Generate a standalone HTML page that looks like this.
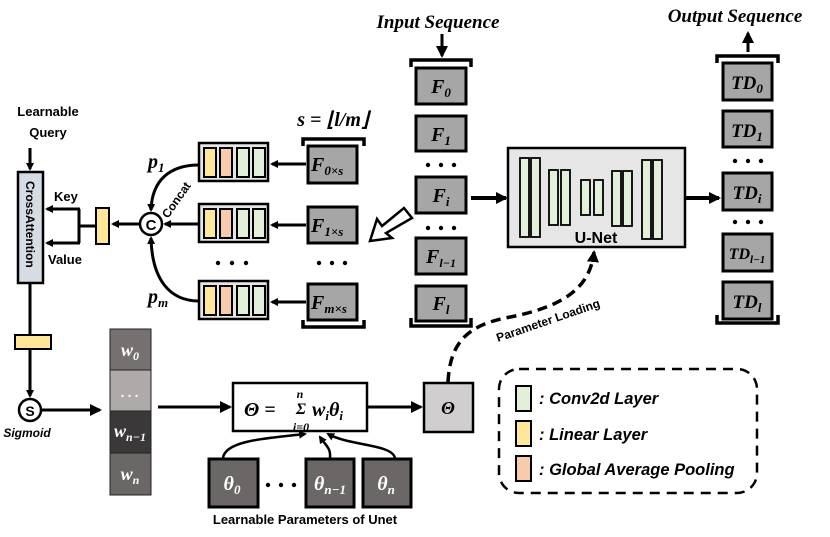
<!DOCTYPE html>
<html><head><meta charset="utf-8"><style>
html,body{margin:0;padding:0;background:#fff;}
svg{display:block}
.sf{font-family:"Liberation Serif",serif;font-weight:bold;font-style:italic;}
.ss{font-family:"Liberation Sans",sans-serif;font-weight:bold;}
</style></head><body>
<svg width="830" height="537" viewBox="0 0 830 537" xmlns="http://www.w3.org/2000/svg">
<defs>
<marker id="ah" markerWidth="8" markerHeight="8" refX="6" refY="4" orient="auto" markerUnits="userSpaceOnUse" viewBox="0 0 8 8">
<path d="M0,0 L8,4 L0,8 z" fill="#000"/></marker>
<marker id="ah2" markerWidth="12" markerHeight="12" refX="10" refY="6" orient="auto" markerUnits="userSpaceOnUse" viewBox="0 0 12 12">
<path d="M0,0 L12,6 L0,12 z" fill="#000"/></marker>
</defs>

<!-- Input sequence -->
<text x="438" y="28" class="sf" font-size="19" text-anchor="middle">Input Sequence</text>
<line x1="442" y1="34" x2="442" y2="56" stroke="#000" stroke-width="3" marker-end="url(#ah2)"/>
<path d="M411,67 V60 H471 V67" fill="none" stroke="#000" stroke-width="3.5"/>
<path d="M411,318 V326 H471 V318" fill="none" stroke="#000" stroke-width="3.5"/>
<g stroke="#000" stroke-width="3" fill="#a6a6a6">
<rect x="416" y="68" width="50" height="36"/>
<rect x="416" y="116" width="50" height="35"/>
<rect x="416" y="177" width="50" height="36"/>
<rect x="416" y="238" width="50" height="36"/>
<rect x="416" y="286" width="50" height="35"/>
</g>
<g class="sf" font-size="20" text-anchor="middle">
<text x="441" y="93">F<tspan font-size="13" dy="4">0</tspan></text>
<text x="441" y="141">F<tspan font-size="13" dy="4">1</tspan></text>
<text x="441" y="202">F<tspan font-size="13" dy="4">i</tspan></text>
<text x="441" y="263">F<tspan font-size="12" dy="4">l−1</tspan></text>
<text x="441" y="310">F<tspan font-size="13" dy="4">l</tspan></text>
</g>
<g fill="#000"><circle cx="428" cy="165" r="2.2"/><circle cx="441" cy="165" r="2.2"/><circle cx="454" cy="165" r="2.2"/>
<circle cx="428" cy="228" r="2.2"/><circle cx="441" cy="228" r="2.2"/><circle cx="454" cy="228" r="2.2"/></g>

<!-- U-Net -->
<line x1="471" y1="198" x2="506" y2="198" stroke="#000" stroke-width="4" marker-end="url(#ah2)"/>
<rect x="508" y="148" width="177" height="99" fill="#e6e6e6" stroke="#000" stroke-width="2.5"/>
<g fill="#e2efda" stroke="#000" stroke-width="1.8">
<rect x="520" y="158" width="9" height="79"/><rect x="531" y="158" width="9" height="79"/>
<rect x="549" y="170" width="9" height="55"/><rect x="561" y="170" width="9" height="55"/>
<rect x="581" y="180" width="9" height="35"/><rect x="594" y="180" width="9" height="35"/>
<rect x="612" y="171" width="9" height="55"/><rect x="623" y="171" width="9" height="55"/>
<rect x="642" y="160" width="9" height="79"/><rect x="653" y="160" width="9" height="79"/>
</g>
<text x="596" y="243" class="ss" font-size="16" text-anchor="middle">U-Net</text>
<line x1="686" y1="198" x2="719" y2="198" stroke="#000" stroke-width="4" marker-end="url(#ah2)"/>

<!-- Output -->
<text x="735" y="22" class="sf" font-size="19" text-anchor="middle">Output Sequence</text>
<line x1="748" y1="52" x2="748" y2="33" stroke="#000" stroke-width="3" marker-end="url(#ah2)"/>
<path d="M717,63 V56 H778 V63" fill="none" stroke="#000" stroke-width="3.5"/>
<path d="M717,315 V323 H778 V315" fill="none" stroke="#000" stroke-width="3.5"/>
<g stroke="#000" stroke-width="3" fill="#a6a6a6">
<rect x="723" y="63" width="49" height="37"/>
<rect x="723" y="111" width="49" height="36"/>
<rect x="723" y="173" width="49" height="37"/>
<rect x="723" y="234" width="49" height="37"/>
<rect x="723" y="282" width="49" height="37"/>
</g>
<g class="sf" font-size="19" text-anchor="middle">
<text x="747" y="89">TD<tspan font-size="13" dy="4">0</tspan></text>
<text x="747" y="137">TD<tspan font-size="13" dy="4">1</tspan></text>
<text x="747" y="199">TD<tspan font-size="13" dy="4">i</tspan></text>
<text x="747" y="259" font-size="16">TD<tspan font-size="11" dy="4">l−1</tspan></text>
<text x="747" y="308">TD<tspan font-size="13" dy="4">l</tspan></text>
</g>
<g fill="#000"><circle cx="735" cy="161" r="2.2"/><circle cx="748" cy="161" r="2.2"/><circle cx="761" cy="161" r="2.2"/>
<circle cx="735" cy="222" r="2.2"/><circle cx="748" cy="222" r="2.2"/><circle cx="761" cy="222" r="2.2"/></g>

<!-- Hollow arrow -->
<path d="M412,218 L404,208 L382,226 L377,219 L370,241 L392,238 L386,233 Z" fill="#fff" stroke="#000" stroke-width="2.5"/>

<!-- subsampled F -->
<text x="333" y="126" class="sf" font-size="20" text-anchor="middle">s = ⌊l/m⌋</text>
<path d="M303,146 V139 H364 V146" fill="none" stroke="#000" stroke-width="3.5"/>
<path d="M303,320 V327 H364 V320" fill="none" stroke="#000" stroke-width="3.5"/>
<g stroke="#000" stroke-width="3" fill="#a6a6a6">
<rect x="308" y="146" width="49" height="37"/>
<rect x="308" y="207" width="49" height="36"/>
<rect x="308" y="284" width="49" height="36"/>
</g>
<g class="sf" font-size="20">
<text x="311" y="171">F<tspan font-size="13" dy="4">0×s</tspan></text>
<text x="311" y="232">F<tspan font-size="13" dy="4">1×s</tspan></text>
<text x="311" y="309">F<tspan font-size="13" dy="4">m×s</tspan></text>
</g>
<g fill="#000"><circle cx="319" cy="263" r="2.2"/><circle cx="332" cy="263" r="2.2"/><circle cx="345" cy="263" r="2.2"/>
<circle cx="218" cy="263" r="2.2"/><circle cx="232" cy="263" r="2.2"/><circle cx="246" cy="263" r="2.2"/></g>
<g stroke="#000" stroke-width="3">
<line x1="306" y1="164" x2="272" y2="164" marker-end="url(#ah)"/>
<line x1="306" y1="225" x2="272" y2="225" marker-end="url(#ah)"/>
<line x1="306" y1="302" x2="272" y2="302" marker-end="url(#ah)"/>
</g>

<!-- feature blocks -->
<g id="fb">
<rect x="199" y="143" width="69" height="38" fill="#e6e6e6" stroke="#000" stroke-width="2.5"/>
<rect x="204" y="148" width="12" height="29" fill="#ffe699" stroke="#000" stroke-width="2"/>
<rect x="220" y="148" width="12" height="29" fill="#f8cbad" stroke="#000" stroke-width="2"/>
<rect x="237" y="148" width="12" height="29" fill="#e2efda" stroke="#000" stroke-width="2"/>
<rect x="253" y="148" width="12" height="29" fill="#e2efda" stroke="#000" stroke-width="2"/>
</g>
<use href="#fb" y="61"/>
<use href="#fb" y="138"/>

<!-- Concat -->
<circle cx="151" cy="224" r="11" fill="#fff" stroke="#000" stroke-width="2.5"/>
<text x="151" y="230" class="ss" font-size="15" text-anchor="middle">C</text>
<text x="0" y="0" class="ss" font-size="12" transform="translate(168,219) rotate(-55)">Concat</text>
<line x1="199" y1="224" x2="165" y2="224" stroke="#000" stroke-width="3" marker-end="url(#ah)"/>
<path d="M199,165 C170,165 152,180 151,210" fill="none" stroke="#000" stroke-width="3" marker-end="url(#ah)"/>
<path d="M199,301 C170,301 152,280 151,238" fill="none" stroke="#000" stroke-width="3" marker-end="url(#ah)"/>
<text x="148" y="168" class="sf" font-size="20">p<tspan font-size="13" dy="4">1</tspan></text>
<text x="148" y="303" class="sf" font-size="20">p<tspan font-size="13" dy="4">m</tspan></text>

<!-- left attention -->
<line x1="140" y1="224" x2="113" y2="224" stroke="#000" stroke-width="3" marker-end="url(#ah)"/>
<rect x="96" y="208" width="13" height="36" fill="#ffe699" stroke="#000" stroke-width="2"/>
<path d="M96,226 H79 M79,209 V243" stroke="#000" stroke-width="3"/>
<line x1="80" y1="209" x2="47" y2="209" stroke="#000" stroke-width="3" marker-end="url(#ah)"/>
<line x1="80" y1="243" x2="47" y2="243" stroke="#000" stroke-width="3" marker-end="url(#ah)"/>
<text x="54" y="201" class="ss" font-size="13">Key</text>
<text x="48" y="264" class="ss" font-size="13">Value</text>
<text x="48" y="116" class="ss" font-size="13" text-anchor="middle">Learnable</text>
<text x="48" y="137" class="ss" font-size="13" text-anchor="middle">Query</text>
<line x1="30" y1="148" x2="30" y2="169" stroke="#000" stroke-width="3" marker-end="url(#ah)"/>
<rect x="18" y="172" width="25" height="111" fill="#d6dce4" stroke="#000" stroke-width="2.5"/>
<text x="0" y="0" class="ss" font-size="12" transform="translate(26,181) rotate(90)">CrossAttention</text>
<line x1="30" y1="284" x2="30" y2="335" stroke="#000" stroke-width="3"/>
<rect x="15" y="335" width="36" height="14" fill="#ffe699" stroke="#000" stroke-width="2"/>
<line x1="30" y1="349" x2="30" y2="396" stroke="#000" stroke-width="3" marker-end="url(#ah)"/>
<circle cx="30" cy="410" r="11" fill="#fff" stroke="#000" stroke-width="2.5"/>
<text x="30" y="416" class="ss" font-size="14" text-anchor="middle">S</text>
<text x="27" y="437" class="ss" font-size="12" font-style="italic" text-anchor="middle">Sigmoid</text>
<line x1="42" y1="410" x2="100" y2="410" stroke="#000" stroke-width="3" marker-end="url(#ah2)"/>

<!-- weights -->
<g stroke="#222" stroke-width="1">
<rect x="110" y="329" width="41" height="41" fill="#767171"/>
<rect x="110" y="370" width="41" height="41" fill="#aeaaaa"/>
<rect x="110" y="411" width="41" height="42" fill="#3a3838"/>
<rect x="110" y="453" width="41" height="42" fill="#6b6767"/>
</g>
<g class="sf" font-size="18" fill="#fff" text-anchor="middle">
<text x="130" y="356">w<tspan font-size="12" dy="4">0</tspan></text>
<text x="130" y="397" font-size="14">. . .</text>
<text x="130" y="437">w<tspan font-size="12" dy="4">n−1</tspan></text>
<text x="130" y="480">w<tspan font-size="12" dy="4">n</tspan></text>
</g>
<line x1="158" y1="407" x2="230" y2="407" stroke="#000" stroke-width="3" marker-end="url(#ah2)"/>
<rect x="233" y="383" width="134" height="48" fill="#fff" stroke="#000" stroke-width="2.5"/>
<text x="244" y="416" class="sf" font-size="20">Θ = </text>
<text x="296" y="414" class="sf" font-size="16">Σ</text>
<text x="300" y="398" class="sf" font-size="12" text-anchor="middle">n</text>
<text x="301" y="431" class="sf" font-size="12" text-anchor="middle">i=0</text>
<text x="312" y="416" class="sf" font-size="20">w<tspan font-size="13" dy="4">i</tspan><tspan dy="-4">θ</tspan><tspan font-size="13" dy="4">i</tspan></text>
<line x1="368" y1="407" x2="421" y2="407" stroke="#000" stroke-width="3" marker-end="url(#ah2)"/>
<rect x="424" y="383" width="49" height="49" fill="#d0cece" stroke="#000" stroke-width="2.5"/>
<text x="448" y="414" class="sf" font-size="18" text-anchor="middle">Θ</text>

<!-- thetas -->
<g stroke="#000" stroke-width="3" fill="#6b6767">
<rect x="209" y="459" width="49" height="48"/>
<rect x="306" y="459" width="48" height="48"/>
<rect x="363" y="459" width="48" height="48"/>
</g>
<g class="sf" font-size="20" fill="#fff" text-anchor="middle">
<text x="232" y="490">θ<tspan font-size="13" dy="4">0</tspan></text>
<text x="330" y="490">θ<tspan font-size="13" dy="4">n−1</tspan></text>
<text x="386" y="490">θ<tspan font-size="13" dy="4">n</tspan></text>
</g>
<g fill="#000"><circle cx="268" cy="485" r="2.2"/><circle cx="281" cy="485" r="2.2"/><circle cx="294" cy="485" r="2.2"/></g>
<text x="305" y="524" class="ss" font-size="13" text-anchor="middle">Learnable Parameters of Unet</text>
<g fill="none" stroke="#000" stroke-width="2.5">
<path d="M223,458 C225,440 270,438 305,434" marker-end="url(#ah)"/>
<path d="M330,458 C331,448 326,446 320,437" marker-end="url(#ah)"/>
<path d="M395,458 C392,444 350,446 328,434" marker-end="url(#ah)"/>
</g>

<!-- parameter loading -->
<path d="M448,382 C450,342 468,326 505,318 C560,308 590,290 594,252" fill="none" stroke="#000" stroke-width="3.5" stroke-dasharray="10,6" marker-end="url(#ah2)"/>
<text x="0" y="0" class="ss" font-size="12" transform="translate(498,342) rotate(-19)">Parameter Loading</text>

<!-- legend -->
<rect x="499" y="369" width="258" height="124" rx="20" fill="none" stroke="#000" stroke-width="2.5" stroke-dasharray="10,7"/>
<rect x="516" y="386" width="15" height="25" fill="#e2efda" stroke="#000" stroke-width="2"/>
<rect x="516" y="421" width="15" height="25" fill="#ffe699" stroke="#000" stroke-width="2"/>
<rect x="516" y="456" width="15" height="25" fill="#f8cbad" stroke="#000" stroke-width="2"/>
<g class="ss" font-size="16.5" font-style="italic">
<text x="539" y="404">: Conv2d Layer</text>
<text x="539" y="440">: Linear Layer</text>
<text x="539" y="475">: Global Average Pooling</text>
</g>
</svg>
</body></html>
